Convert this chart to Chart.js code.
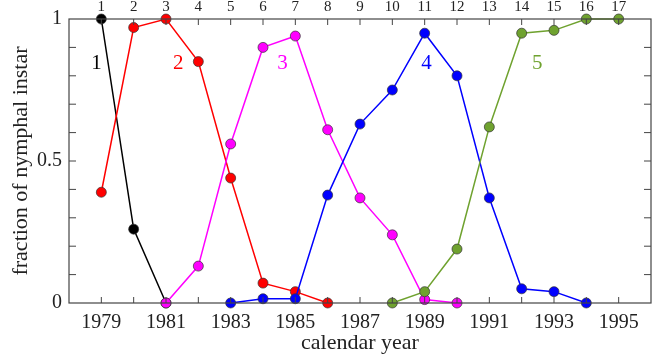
<!DOCTYPE html>
<html>
<head>
<meta charset="utf-8">
<script src="https://cdn.jsdelivr.net/npm/chart.js@4.4.1/dist/chart.umd.min.js"></script>
<style>
  html, body { margin: 0; padding: 0; background: #fff; }
  #wrap { width: 662px; height: 357px; }
</style>
</head>
<body>
<div id="wrap"><canvas id="instarChart"></canvas></div>
<script>
// calendar years on the bottom axis, instar index on the top axis
var years = [1979, 1980, 1981, 1982, 1983, 1984, 1985, 1986, 1987,
             1988, 1989, 1990, 1991, 1992, 1993, 1994, 1995];
var topLabels = ["1", "2", "3", "4", "5", "6", "7", "8", "9",
                 "10", "11", "12", "13", "14", "15", "16", "17"];
var yLabels = [0, 0.5, 1];

// fraction of each nymphal instar, one series per instar
var instar1Years = [1979, 1980, 1981];
var instar1 = [1, 0.26, 0];
var instar2Years = [1979, 1980, 1981, 1982, 1983, 1984, 1985, 1986];
var instar2 = [0.39, 0.97, 1, 0.85, 0.44, 0.07, 0.04, 0];
var instar3Years = [1981, 1982, 1983, 1984, 1985, 1986, 1987, 1988, 1989, 1990];
var instar3 = [0, 0.13, 0.56, 0.90, 0.94, 0.61, 0.37, 0.24, 0.012, 0];
var instar4Years = [1983, 1984, 1985, 1986, 1987, 1988, 1989, 1990, 1991, 1992, 1993, 1994];
var instar4 = [0, 0.015, 0.015, 0.38, 0.63, 0.75, 0.95, 0.80, 0.37, 0.05, 0.04, 0];
var instar5Years = [1988, 1989, 1990, 1991, 1992, 1993, 1994, 1995];
var instar5 = [0, 0.04, 0.19, 0.62, 0.95, 0.96, 1, 1];

// series names written inside the plot, at (year, fraction)
var seriesNames = ["1", "2", "3", "4", "5"];
var nameYears = [1978.85, 1981.38, 1984.6, 1989.06, 1992.48];
var nameFractions = [0.845, 0.845, 0.845, 0.845, 0.845];

var colors = ["#000000", "#ff0000", "#ff00ff", "#0000ff", "#6fa22f"];
var serif = "'Liberation Serif', 'DejaVu Serif', serif";

function pts(xs, ys) {
  return xs.map(function (x, i) { return { x: x, y: ys[i] }; });
}

// later instars are drawn over earlier ones
function series(xs, ys, i) {
  return {
    data: pts(xs, ys),
    order: 10 - i,
    borderColor: colors[i],
    backgroundColor: colors[i],
    borderWidth: 1.5,
    pointRadius: 5,
    pointBorderColor: "#333333",
    pointBorderWidth: 0.7,
    pointBackgroundColor: colors[i],
    clip: false,
    tension: 0
  };
}

// box + inward ticks on all four sides, plus the in-plot series names
var framePlugin = {
  id: "frame",
  afterDraw: function (chart) {
    var c = chart.ctx, a = chart.chartArea;
    var xs = chart.scales.x, ys = chart.scales.y;
    c.save();
    c.strokeStyle = "#444444";
    c.lineWidth = 1.2;
    c.strokeRect(a.left, a.top, a.right - a.left, a.bottom - a.top);
    c.lineWidth = 1;
    c.beginPath();
    for (var yr = 1979; yr <= 1995; yr++) {
      var px = xs.getPixelForValue(yr);
      c.moveTo(px, a.bottom); c.lineTo(px, a.bottom - 6);
      c.moveTo(px, a.top); c.lineTo(px, a.top + 6);
    }
    for (var k = 1; k < 10; k++) {
      var py = ys.getPixelForValue(k / 10);
      c.moveTo(a.left, py); c.lineTo(a.left + 7, py);
      c.moveTo(a.right, py); c.lineTo(a.right - 7, py);
    }
    c.stroke();
    c.font = "21px " + serif;
    c.textAlign = "center";
    c.textBaseline = "middle";
    seriesNames.forEach(function (n, i) {
      c.fillStyle = colors[i];
      c.fillText(n, xs.getPixelForValue(nameYears[i]), ys.getPixelForValue(nameFractions[i]));
    });
    c.restore();
  }
};

new Chart(document.getElementById("instarChart"), {
  type: "line",
  data: {
    datasets: [
      series(instar1Years, instar1, 0),
      series(instar2Years, instar2, 1),
      series(instar3Years, instar3, 2),
      series(instar4Years, instar4, 3),
      series(instar5Years, instar5, 4)
    ]
  },
  options: {
    responsive: true,
    maintainAspectRatio: false,
    animation: false,
    layout: { padding: { left: 0, right: 11, top: 0, bottom: 0 } },
    plugins: { legend: { display: false }, tooltip: { enabled: false } },
    scales: {
      x: {
        type: "linear",
        position: "bottom",
        min: 1978,
        max: 1996,
        afterBuildTicks: function (s) {
          s.ticks = years.map(function (v) { return { value: v }; });
        },
        afterFit: function (s) { s.height = 54; },
        grid: { display: false, drawTicks: false },
        border: { display: false },
        ticks: {
          padding: 8,
          maxRotation: 0,
          autoSkip: false,
          color: "#222",
          font: { family: serif, size: 20 },
          callback: function (v) { return (v - 1979) % 2 === 0 ? String(v) : ""; }
        },
        title: {
          display: true,
          text: "calendar year",
          color: "#222",
          padding: { top: 0, bottom: 1 },
          font: { family: serif, size: 22 }
        }
      },
      x2: {
        type: "linear",
        position: "top",
        min: 1978,
        max: 1996,
        afterBuildTicks: function (s) {
          s.ticks = years.map(function (v) { return { value: v }; });
        },
        afterFit: function (s) { s.height = 19; },
        grid: { display: false, drawTicks: false },
        border: { display: false },
        ticks: {
          padding: 3,
          maxRotation: 0,
          autoSkip: false,
          color: "#222",
          font: { family: serif, size: 15 },
          callback: function (v) { return topLabels[years.indexOf(v)]; }
        }
      },
      y: {
        type: "linear",
        min: 0,
        max: 1,
        afterBuildTicks: function (s) {
          s.ticks = yLabels.map(function (v) { return { value: v }; });
        },
        afterFit: function (s) { s.width = 69; },
        grid: { display: false, drawTicks: false },
        border: { display: false },
        ticks: {
          padding: 7,
          color: "#222",
          font: { family: serif, size: 20 },
          callback: function (v) { return String(v); }
        },
        title: {
          display: true,
          text: "fraction of nymphal instar",
          color: "#222",
          padding: { top: 8, bottom: 0 },
          font: { family: serif, size: 22 }
        }
      }
    }
  },
  plugins: [framePlugin]
});
</script>
</body>
</html>
